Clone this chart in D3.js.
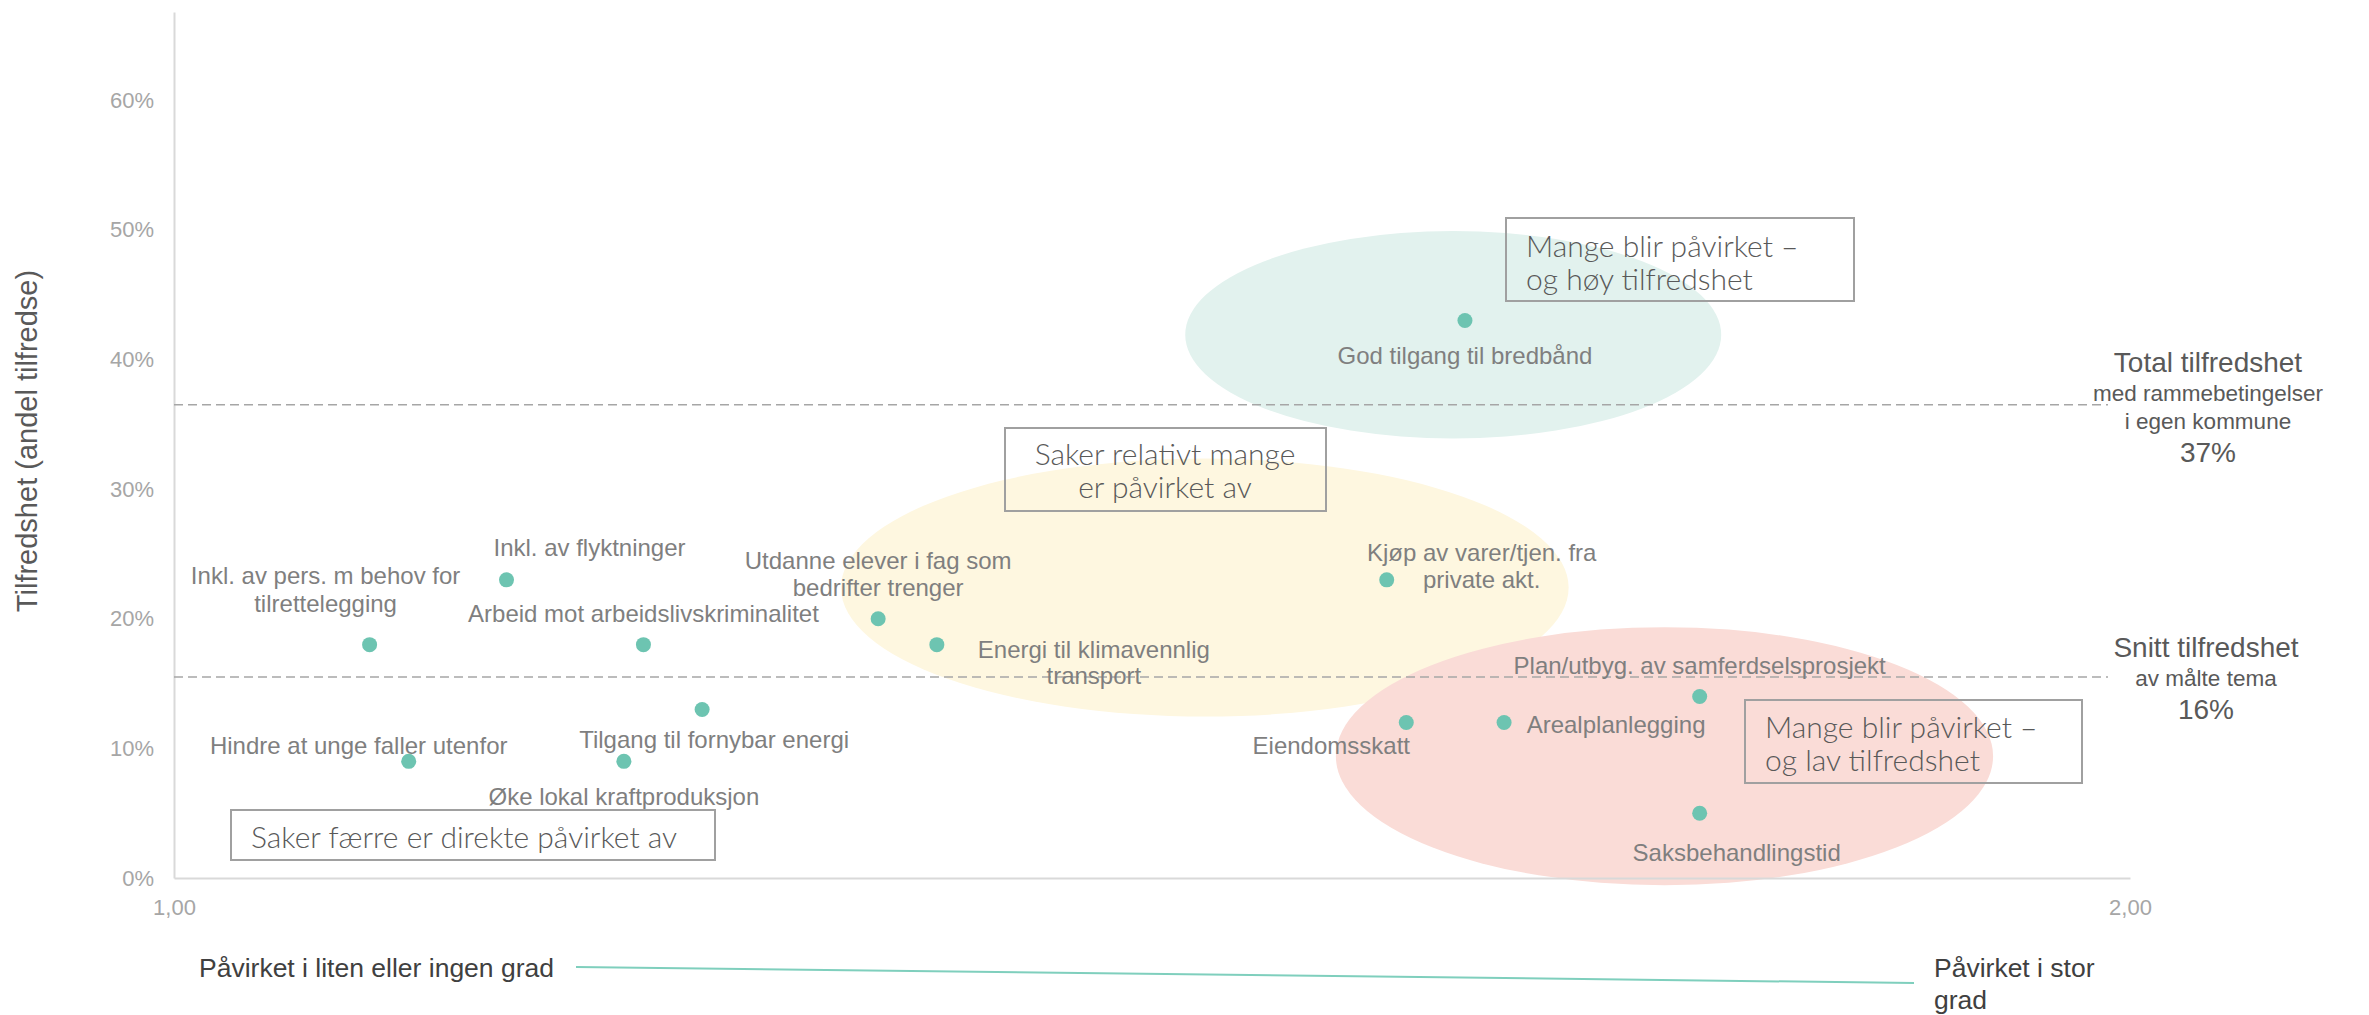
<!DOCTYPE html>
<html><head><meta charset="utf-8">
<script src="https://cdn.jsdelivr.net/npm/d3@7"></script>
<style>
html,body{margin:0;padding:0;background:#fff;}
svg{display:block;}
</style></head>
<body>
<svg id="chart" width="2369" height="1015"></svg>
<script>
// ---- Data ----
const topics = [
  "Inkl. av pers. m behov for tilrettelegging",
  "Inkl. av flyktninger",
  "Arbeid mot arbeidslivskriminalitet",
  "Hindre at unge faller utenfor",
  "Øke lokal kraftproduksjon",
  "Tilgang til fornybar energi",
  "Utdanne elever i fag som bedrifter trenger",
  "Energi til klimavennlig transport",
  "Kjøp av varer/tjen. fra private akt.",
  "God tilgang til bredbånd",
  "Eiendomsskatt",
  "Arealplanlegging",
  "Plan/utbyg. av samferdselsprosjekt",
  "Saksbehandlingstid"
];
const impact = [1.10, 1.17, 1.24, 1.12, 1.23, 1.27, 1.36, 1.39, 1.62, 1.66, 1.63, 1.68, 1.78, 1.78];
const satisfaction = [0.18, 0.23, 0.18, 0.09, 0.09, 0.13, 0.20, 0.18, 0.23, 0.43, 0.12, 0.12, 0.14, 0.05];
const labelLines = [
  ["Inkl. av pers. m behov for", "tilrettelegging"],
  ["Inkl. av flyktninger"],
  ["Arbeid mot arbeidslivskriminalitet"],
  ["Hindre at unge faller utenfor"],
  ["Øke lokal kraftproduksjon"],
  ["Tilgang til fornybar energi"],
  ["Utdanne elever i fag som", "bedrifter trenger"],
  ["Energi til klimavennlig", "transport"],
  ["Kjøp av varer/tjen. fra", "private akt."],
  ["God tilgang til bredbånd"],
  ["Eiendomsskatt"],
  ["Arealplanlegging"],
  ["Plan/utbyg. av samferdselsprosjekt"],
  ["Saksbehandlingstid"]
];
const yTicks = [0, 0.1, 0.2, 0.3, 0.4, 0.5, 0.6];
const xTicks = [1, 2];
const refValues = [0.365, 0.155];
const refTitles = ["Total tilfredshet", "Snitt tilfredshet"];
const refSubtitles = [["med rammebetingelser", "i egen kommune"], ["av målte tema"]];
const refLabels = ["37%", "16%"];
// Ellipse groups (data units): centre impact, centre satisfaction, radius impact, radius satisfaction
const groupCx = [1.654, 1.527, 1.762];
const groupCy = [0.419, 0.224, 0.094];
const groupRx = [0.137, 0.186, 0.168];
const groupRy = [0.080, 0.0995, 0.0995];
const groupColors = ["#e2f2ee", "#fef7e0", "#fadcd7"];
const boxTexts = [
  ["Mange blir påvirket –", "og høy tilfredshet"],
  ["Saker relativt mange", "er påvirket av"],
  ["Mange blir påvirket –", "og lav tilfredshet"],
  ["Saker færre er direkte påvirket av"]
];
const yTitle = "Tilfredshet (andel tilfredse)";
const xLowLabel = "Påvirket i liten eller ingen grad";
const xHighLabel = ["Påvirket i stor", "grad"];

// ---- Layout (pixels) ----
const labelOffsets = [
  [-44, [-69, -41]], [83, [-32]], [0, [-31]], [-50, [-16]], [0, [35]], [12, [30]],
  [0, [-58, -31]], [157, [5, 31]], [95, [-27, 0]], [0, [35]], [-75, [23]], [112, [2]],
  [0, [-31]], [37, [39]]
];
// box: x, y, w, h, text anchor ("start"/"middle"), text x offset, line y positions
const boxLayout = [
  {x:1506, y:218, w:348, h:83, anchor:"start", tx:20, ly:[245, 278]},
  {x:1005, y:428, w:321, h:83, anchor:"middle", tx:160, ly:[453, 486]},
  {x:1745, y:700, w:337, h:83, anchor:"start", tx:20, ly:[726, 759]},
  {x:231, y:810, w:484, h:50, anchor:"start", tx:20, ly:[836]}
];

const svg = d3.select("#chart");
const x = d3.scaleLinear().domain([1, 2]).range([174, 2130]);
const y = d3.scaleLinear().domain([0, 0.668]).range([878, 12]);

// ellipses
svg.append("g").selectAll("ellipse").data(groupCx).join("ellipse")
  .attr("cx", (d) => x(d))
  .attr("cy", (d, i) => y(groupCy[i]))
  .attr("rx", (d, i) => x(1 + groupRx[i]) - x(1))
  .attr("ry", (d, i) => y(0) - y(groupRy[i]))
  .attr("fill", (d, i) => groupColors[i]);

// axes
const yAxis = svg.append("g").attr("transform", `translate(${x(1)},0)`)
  .call(d3.axisLeft(y).tickValues(yTicks).tickFormat(d3.format(".0%")).tickSize(0).tickPadding(20));
const xAxis = svg.append("g").attr("transform", `translate(0,${y(0)})`)
  .call(d3.axisBottom(x).tickValues(xTicks).tickFormat(d => d.toFixed(2).replace(".", ",")).tickSize(0).tickPadding(21));
[yAxis, xAxis].forEach(g => {
  g.select(".domain").attr("stroke", "#d9d9d9").attr("stroke-width", 2);
  g.selectAll("text").attr("fill", "#a6a6a6").style("font-family", "'Liberation Sans', Arial, sans-serif").style("font-size", "22px");
});

// reference lines
svg.append("g").selectAll("line").data(refValues).join("line")
  .attr("x1", x(1)).attr("x2", 2108)
  .attr("y1", d => y(d)).attr("y2", d => y(d))
  .attr("stroke", "#a6a6a6").attr("stroke-width", 1.6).attr("stroke-dasharray", "9,5");

const refG = svg.append("g").style("font-family", "'Liberation Sans', Arial, sans-serif").attr("fill", "#595959").attr("text-anchor", "middle");
refValues.forEach((v, i) => {
  const cx = i === 0 ? 2208 : 2206;
  const top = i === 0 ? 362 : 647;
  refG.append("text").attr("x", cx).attr("y", top).attr("dominant-baseline", "central").style("font-size", "28px").text(refTitles[i]);
  refSubtitles[i].forEach((s, k) => {
    refG.append("text").attr("x", cx).attr("y", top + 31 + k * 28).attr("dominant-baseline", "central").style("font-size", "22.5px").text(s);
  });
  refG.append("text").attr("x", cx).attr("y", top + 31 + refSubtitles[i].length * 28 + 3).attr("dominant-baseline", "central").style("font-size", "28px").text(refLabels[i]);
});

// points
svg.append("g").selectAll("circle").data(impact).join("circle")
  .attr("cx", d => x(d))
  .attr("cy", (d, i) => y(satisfaction[i]))
  .attr("r", 7.5)
  .attr("fill", "#6dc4b1");

// point labels
const lg = svg.append("g").style("font-family", "'Liberation Sans', Arial, sans-serif").style("font-size", "24px").attr("fill", "#7f7f7f").attr("text-anchor", "middle");
impact.forEach((v, i) => {
  const [dx, dys] = labelOffsets[i];
  labelLines[i].forEach((line, k) => {
    lg.append("text").attr("x", x(v) + dx).attr("y", y(satisfaction[i]) + dys[k])
      .attr("dominant-baseline", "central").text(line);
  });
});

// boxes
const bg = svg.append("g");
boxLayout.forEach((b, i) => {
  bg.append("rect").attr("x", b.x).attr("y", b.y).attr("width", b.w).attr("height", b.h)
    .attr("fill", "none").attr("stroke", "#a0a0a0").attr("stroke-width", 2);
  boxTexts[i].forEach((t, k) => {
    bg.append("text").attr("x", b.x + b.tx).attr("y", b.ly[k]).attr("text-anchor", b.anchor)
      .attr("dominant-baseline", "central").attr("fill", "#595959")
      .style("font-family", "Lato, 'Open Sans', sans-serif").style("font-size", "30px").style("font-weight", 300)
      .text(t);
  });
});

// y title
svg.append("text").attr("transform", "translate(27,441) rotate(-90)")
  .attr("text-anchor", "middle").attr("dominant-baseline", "central")
  .attr("fill", "#595959").style("font-family", "'Liberation Sans', Arial, sans-serif").style("font-size", "29px")
  .text(yTitle);

// bottom direction indicator
const bottomG = svg.append("g").style("font-family", "'Liberation Sans', Arial, sans-serif").style("font-size", "26.5px").attr("fill", "#404040");
bottomG.append("text").attr("x", 199).attr("y", 968).attr("dominant-baseline", "central").text(xLowLabel);
bottomG.append("line").attr("x1", 576).attr("y1", 967).attr("x2", 1914).attr("y2", 983)
  .attr("stroke", "#7fcfbd").attr("stroke-width", 2);
xHighLabel.forEach((t, k) => {
  bottomG.append("text").attr("x", 1934).attr("y", 968 + k * 32).attr("dominant-baseline", "central").text(t);
});
</script>
</body></html>
